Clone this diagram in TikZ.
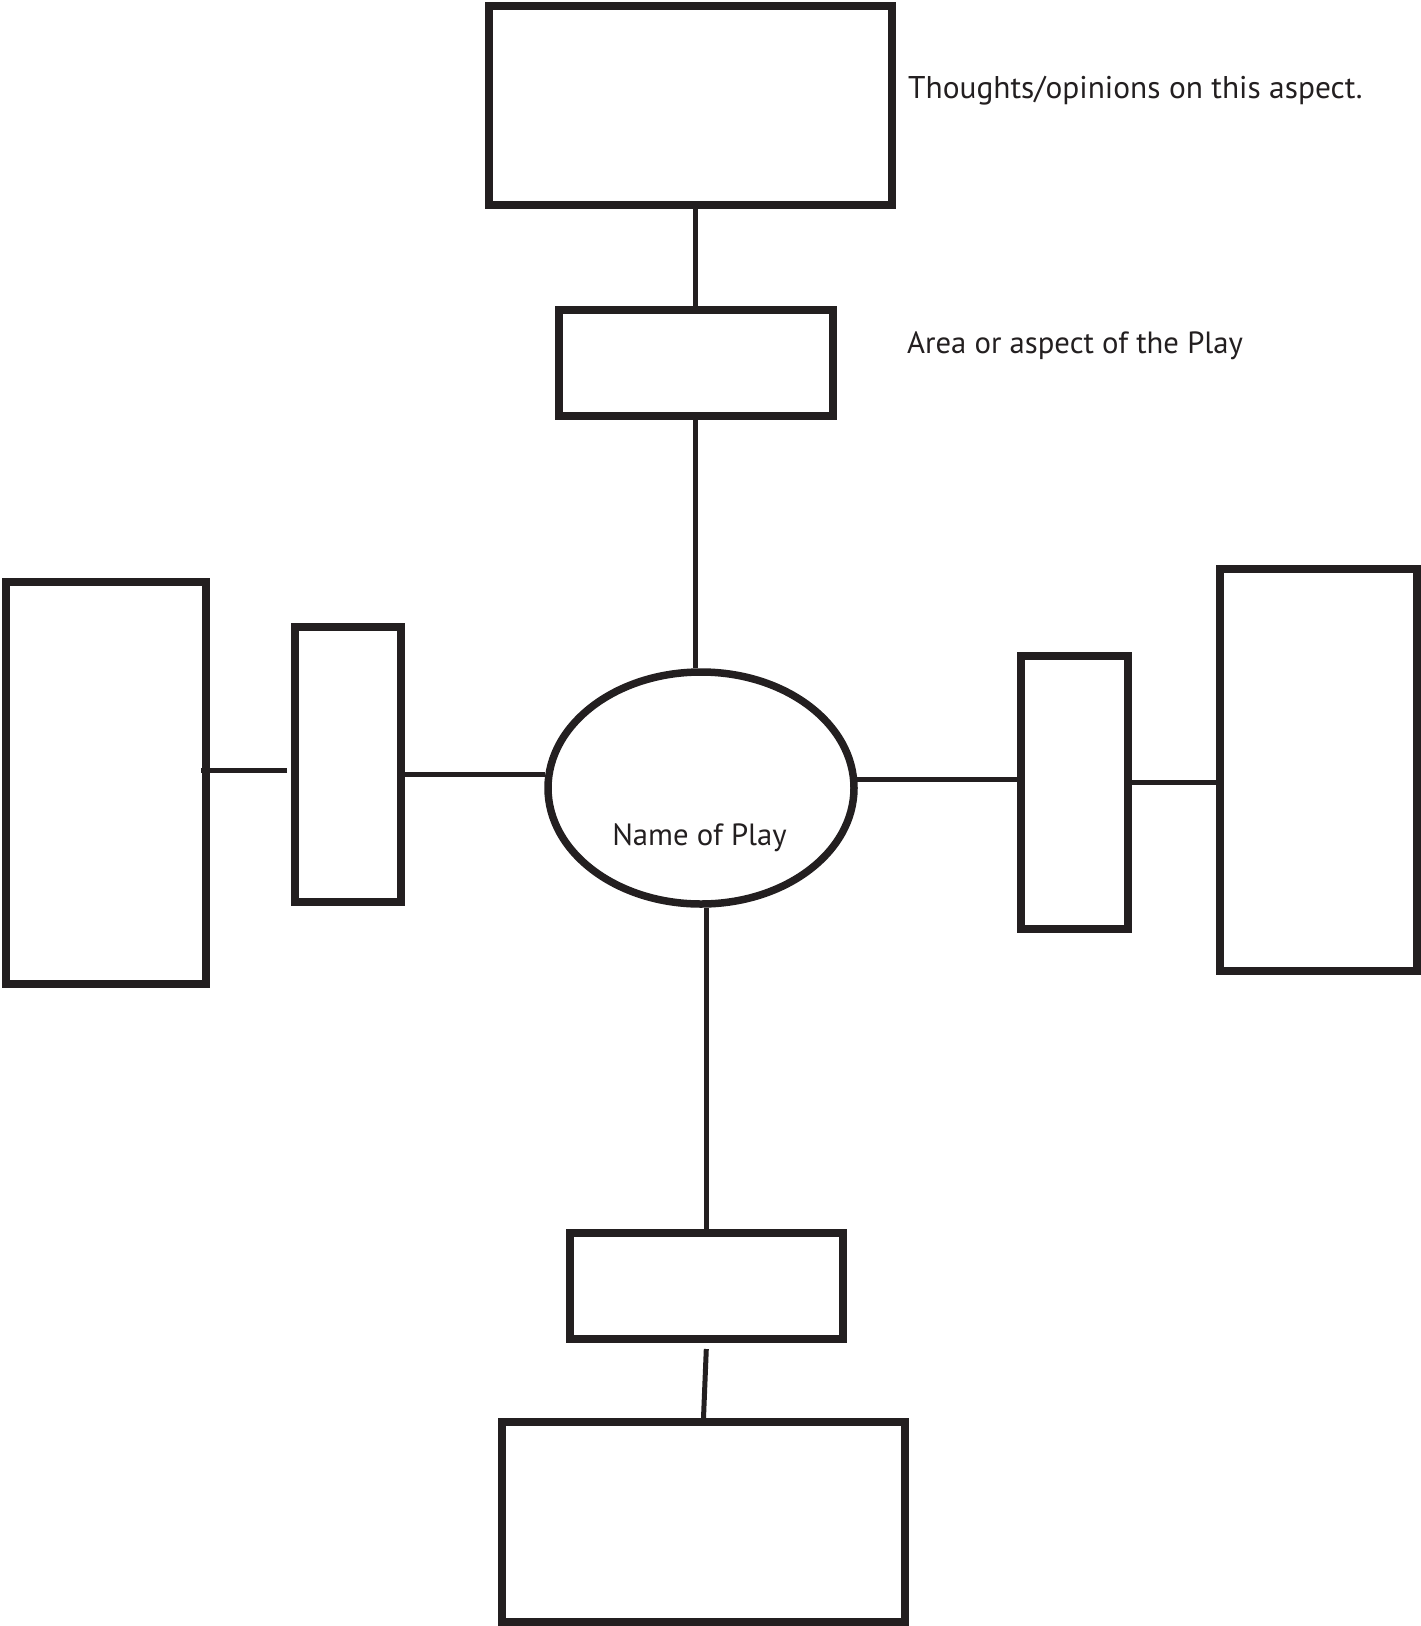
\documentclass[tikz,border=0pt]{standalone}
\usepackage{fontspec}
\setmainfont{PT Sans}
\usetikzlibrary{calc,shapes.geometric}
\definecolor{ink}{HTML}{231F20}
\tikzset{
  boxnode/.style={draw=ink, line width=8pt, rectangle, inner sep=0pt, fill=white},
  ovalnode/.style={draw=ink, line width=7.5pt, ellipse, inner sep=0pt},
  link/.style={draw=ink, line width=5pt},
  lbl/.style={text=ink, inner sep=0pt, anchor=base west}
}
\begin{document}
\begin{tikzpicture}[x=1pt,y=-1pt]
\useasboundingbox (0,0) rectangle (1421,1626);
% top
\node[boxnode, minimum width=402.7pt, minimum height=199pt] (topbig) at (690.3,105.5) {};
\node[boxnode, minimum width=273.7pt, minimum height=106pt] (topasp) at (695.8,363) {};
% centre
\node[ovalnode, minimum width=306pt, minimum height=232pt] (play) at (701,788) {};
% left
\node[boxnode, minimum width=200pt, minimum height=402pt] (leftbig) at (106,783) {};
\node[boxnode, minimum width=106.3pt, minimum height=275pt] (leftasp) at (347.8,764.5) {};
% right
\node[boxnode, minimum width=107pt, minimum height=273pt] (rightasp) at (1074.5,792.5) {};
\node[boxnode, minimum width=197pt, minimum height=402pt] (rightbig) at (1318.5,770) {};
% bottom
\node[boxnode, minimum width=273.3pt, minimum height=106pt] (botasp) at (706.3,1286) {};
\node[boxnode, minimum width=403pt, minimum height=200pt] (botbig) at (703.5,1522) {};
% connectors
\draw[link] (topasp.north) -- (topasp.north |- topbig.south);
\draw[link] (topasp.south) -- (topasp.south |- play.north);
\draw[link] (botasp.north) -- (botasp.north |- play.south);
\draw[link] ([yshift=-6pt]botasp.south) -- (botbig.north);
\coordinate (lA) at ($(leftasp.west)+(-3.5,5.5)$);
\draw[link] (lA) -- ($(lA -| leftbig.east)+(-9,0)$);
\coordinate (lB) at ($(leftasp.east)+(0,9.5)$);
\draw[link] (lB) -- ($(lB -| play.west)+(1,0)$);
\coordinate (rA) at ($(rightasp.west)+(0,-13.5)$);
\draw[link] (rA) -- ($(rA -| play.east)+(-1,0)$);
\coordinate (rB) at ($(rightasp.east)+(0,-9.8)$);
\draw[link] (rB) -- (rB -| rightbig.west);
% labels
\node[lbl, font=\fontsize{31.4}{36}\selectfont] (thoughts) at (908,98) {Thoughts/opinions on this aspect.};
\node[lbl, font=\fontsize{30.7}{36}\selectfont] (area) at (907,353) {Area or aspect of the Play};
\node[text=ink, inner sep=0pt, anchor=base, font=\fontsize{30.7}{36}\selectfont] (name) at ($(play.center)+(-1.5,57)$) {Name of Play};
\end{tikzpicture}
\end{document}
